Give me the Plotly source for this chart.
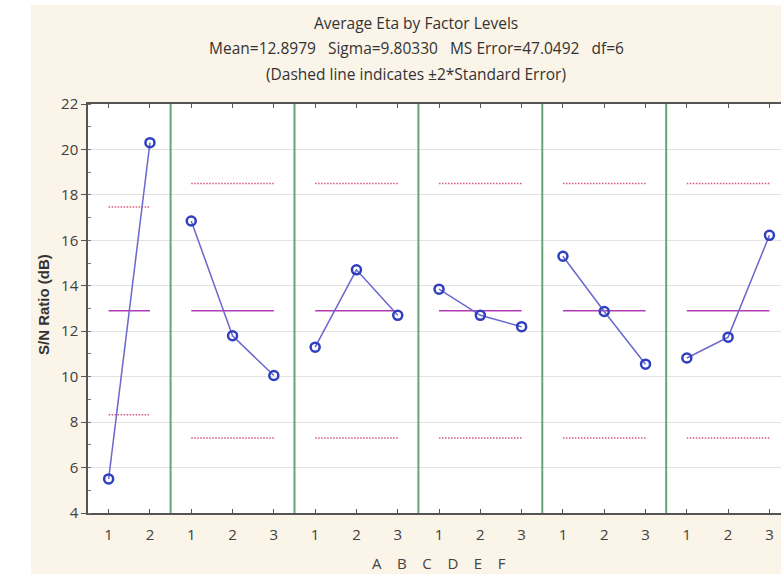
import plotly.graph_objects as go

# ---- data ----
factors = ["A", "B", "C", "D", "E", "F"]
levels = [[1, 2], [1, 2, 3], [1, 2, 3], [1, 2, 3], [1, 2, 3], [1, 2, 3]]
sn_values = [
    [5.5, 20.3],
    [16.85, 11.8, 10.05],
    [11.3, 14.7, 12.7],
    [13.85, 12.7, 12.2],
    [15.3, 12.87, 10.55],
    [10.82, 11.74, 16.22],
]
grand_mean = 12.8979
upper_limits = [17.471, 18.499, 18.499, 18.499, 18.499, 18.499]
lower_limits = [8.325, 7.297, 7.297, 7.297, 7.297, 7.297]
y_ticks = [4, 6, 8, 10, 12, 14, 16, 18, 20, 22]
title_lines = [
    "Average Eta by Factor Levels",
    "Mean=12.8979\u00a0\u00a0\u00a0Sigma=9.80330\u00a0\u00a0\u00a0MS Error=47.0492\u00a0\u00a0\u00a0df=6",
    "(Dashed line indicates \u00b12*Standard Error)",
]

FONT = "Open Sans"
fig = go.Figure()

tickvals, ticktext, boundaries = [], [], []
pos = 0
for i, lv in enumerate(levels):
    xs = [pos + k + 1 for k in range(len(lv))]
    tickvals += xs
    ticktext += [str(v) for v in lv]
    # mean line
    fig.add_trace(go.Scatter(x=[xs[0], xs[-1]], y=[grand_mean, grand_mean], mode="lines",
                             line=dict(color="#b23cb4", width=1.5), hoverinfo="skip", showlegend=False))
    # +/- 2 SE lines
    for lim in (upper_limits[i], lower_limits[i]):
        fig.add_trace(go.Scatter(x=[xs[0], xs[-1]], y=[lim, lim], mode="lines",
                                 line=dict(color="#d65a78", width=1.5, dash="1.5px,1.5px"),
                                 hoverinfo="skip", showlegend=False))
    # factor means
    fig.add_trace(go.Scatter(x=xs, y=sn_values[i], mode="lines+markers",
                             line=dict(color="#6a68cc", width=1.5),
                             marker=dict(symbol="circle-open", size=9, color="#2f3fbf",
                                         line=dict(width=2.5, color="#2f3fbf")),
                             name=factors[i], showlegend=False))
    pos += len(lv)
    if i < len(levels) - 1:
        boundaries.append(pos + 0.5)

for b in boundaries:
    fig.add_shape(type="line", xref="x", yref="y", x0=b, x1=b, y0=4, y1=22,
                  line=dict(color="#66a476", width=2), layer="above")

# white strips at left/top/bottom of the image
fig.add_shape(type="rect", xref="paper", yref="paper", x0=-0.2, x1=-57/693, y0=-0.2, y1=1.3,
              fillcolor="white", line=dict(width=0), layer="below")
fig.add_shape(type="rect", xref="paper", yref="paper", x0=-0.2, x1=1.1, y0=1 + 99/409, y1=1.3,
              fillcolor="white", line=dict(width=0), layer="below")
fig.add_shape(type="rect", xref="paper", yref="paper", x0=-0.2, x1=1.1, y0=-0.2, y1=-61/409,
              fillcolor="white", line=dict(width=0), layer="below")

for j, (t, ypx) in enumerate(zip(title_lines, [23, 48, 74])):
    fig.add_annotation(text=t, xref="paper", yref="paper", x=(416 - 88) / 693,
                       y=1 + (104 - ypx) / 409, showarrow=False, xanchor="center", yanchor="middle",
                       font=dict(family=FONT, size=15.5, color="#333333"))

fig.add_annotation(text="\u00a0\u00a0\u00a0\u00a0".join(factors), xref="x", yref="paper", x=9.0,
                   y=-(563 - 513) / 409, showarrow=False, xanchor="center", yanchor="middle",
                   font=dict(family=FONT, size=15, color="#444444"))
fig.add_annotation(text="<b>S/N Ratio (dB)</b>", xref="paper", yref="paper", x=-(88 - 43) / 693,
                   y=(513 - 305) / 409, showarrow=False, textangle=-90, xanchor="center",
                   yanchor="middle", font=dict(family="Liberation Sans", size=15, color="#333333"))

fig.update_layout(
    width=781, height=576,
    margin=dict(l=88, r=0, t=104, b=63),
    paper_bgcolor="#fbf4e8", plot_bgcolor="white",
    font=dict(family=FONT, size=15, color="#444444"),
    xaxis=dict(range=[0.5, 17.28], tickvals=tickvals, ticktext=ticktext, showgrid=False,
               zeroline=False, showline=True, linecolor="#555555", linewidth=1.5,
               mirror="ticks", ticks="inside", ticklen=4, tickcolor="#555555",
               ticklabelstandoff=7, tickfont=dict(size=15, color="#404040")),
    yaxis=dict(range=[4, 22], tickvals=y_ticks, showgrid=True, gridcolor="#e2e2e2",
               gridwidth=1, zeroline=False, showline=True, linecolor="#555555", linewidth=1.5,
               ticks="outside", ticklen=5, tickcolor="#555555",
               minor=dict(dtick=1, ticks="inside", ticklen=3, tickcolor="#777777", showgrid=False),
               tickfont=dict(size=15, color="#404040")),
)

fig.write_html("out.html", config={"displayModeBar": False},
               post_script="document.body.style.margin='0';")
